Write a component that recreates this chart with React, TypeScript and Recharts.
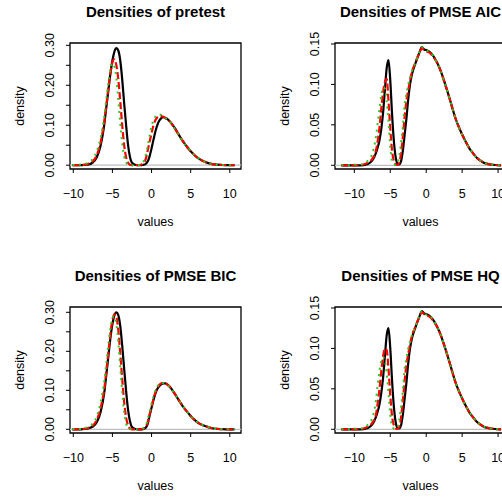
import { LineChart, Line, XAxis, YAxis, ReferenceLine, ReferenceArea } from 'recharts';

// evaluation grid for the pretest / BIC densities
const gridA = [
  -10.1, -9, -8.5, -8, -7.5, -7, -6.5, -6,
  -5.75, -5.5, -5.25, -5, -4.75, -4.5, -4.25, -4, -3.75, -3.5, -3.25, -3, -2.75, -2.5,
  -2, -1.5, -1.25, -1, -0.75, -0.5, -0.25, 0,
  0.25, 0.5, 0.75, 1, 1.25, 1.5, 1.75, 2,
  2.5, 3, 3.5, 4, 4.5, 5, 5.5, 6, 6.5, 7, 7.5, 8,
  9, 10, 10.6,
];

// evaluation grid for the AIC / HQ densities
const gridB = [
  -11.8, -11, -10, -9, -8.5, -8, -7.5, -7,
  -6.75, -6.5, -6.25, -6, -5.75, -5.5, -5.25, -5, -4.75, -4.5, -4.25, -4,
  -3.75, -3.5, -3.25, -3, -2.75, -2.5, -2.25, -2,
  -1.5, -1, -0.6, -0.25, 0, 0.5, 1, 1.5, 2,
  2.5, 3, 3.5, 4, 4.5, 5, 5.5, 6, 6.5, 7, 7.5, 8,
  9, 10.4,
];

const pretestBlack = [
  0, 0, 0.001, 0.002, 0.007, 0.02, 0.05, 0.108,
  0.15, 0.19, 0.23, 0.262, 0.284, 0.293, 0.287, 0.262, 0.215, 0.155, 0.1, 0.05, 0.02, 0.006,
  0.0005, 0, 0, 0.001, 0.003, 0.009, 0.022, 0.042,
  0.064, 0.085, 0.101, 0.112, 0.118, 0.12, 0.119, 0.116,
  0.106, 0.092, 0.076, 0.06, 0.047, 0.035, 0.025, 0.017, 0.011, 0.007, 0.004, 0.002,
  0.0005, 0, 0,
];
const pretestRed = [
  0, 0.0005, 0.0015, 0.004, 0.01, 0.025, 0.058, 0.115,
  0.155, 0.195, 0.232, 0.258, 0.265, 0.25, 0.215, 0.16, 0.1, 0.05, 0.02, 0.006, 0.001, 0,
  0, 0.0005, 0.002, 0.006, 0.015, 0.036, 0.058, 0.08,
  0.1, 0.113, 0.12, 0.123, 0.123, 0.121, 0.118, 0.115,
  0.105, 0.091, 0.075, 0.06, 0.047, 0.035, 0.025, 0.017, 0.011, 0.007, 0.004, 0.002,
  0.0005, 0, 0,
];
const pretestGreen = [
  0.0005, 0.0015, 0.003, 0.007, 0.016, 0.035, 0.07, 0.128,
  0.17, 0.208, 0.24, 0.255, 0.248, 0.218, 0.165, 0.105, 0.055, 0.022, 0.007, 0.0015, 0, 0,
  0, 0.001, 0.004, 0.011, 0.025, 0.047, 0.073, 0.097,
  0.113, 0.122, 0.126, 0.127, 0.126, 0.123, 0.119, 0.115,
  0.105, 0.09, 0.075, 0.06, 0.047, 0.035, 0.025, 0.017, 0.011, 0.007, 0.004, 0.002,
  0.0005, 0, 0,
];

const bicBlack = [
  0, 0, 0.001, 0.003, 0.007, 0.018, 0.045, 0.1,
  0.145, 0.19, 0.235, 0.27, 0.292, 0.3, 0.293, 0.265, 0.215, 0.155, 0.098, 0.05, 0.02, 0.006,
  0.0005, 0, 0, 0.001, 0.004, 0.013, 0.035, 0.055,
  0.075, 0.092, 0.104, 0.111, 0.116, 0.118, 0.118, 0.115,
  0.105, 0.09, 0.074, 0.059, 0.046, 0.034, 0.024, 0.016, 0.011, 0.007, 0.004, 0.002,
  0.0005, 0, 0,
];
const bicRed = [
  0, 0.0005, 0.0015, 0.004, 0.01, 0.024, 0.055, 0.11,
  0.155, 0.2, 0.245, 0.28, 0.295, 0.288, 0.255, 0.195, 0.13, 0.07, 0.03, 0.01, 0.002, 0,
  0, 0, 0, 0.002, 0.006, 0.017, 0.038, 0.058,
  0.078, 0.095, 0.107, 0.114, 0.118, 0.119, 0.118, 0.115,
  0.105, 0.09, 0.074, 0.059, 0.046, 0.034, 0.024, 0.016, 0.011, 0.007, 0.004, 0.002,
  0.0005, 0, 0,
];
const bicGreen = [
  0.0005, 0.001, 0.003, 0.007, 0.015, 0.033, 0.07, 0.13,
  0.175, 0.22, 0.26, 0.285, 0.29, 0.27, 0.225, 0.16, 0.095, 0.045, 0.015, 0.004, 0.0005, 0,
  0, 0, 0.001, 0.004, 0.01, 0.024, 0.045, 0.065,
  0.085, 0.1, 0.11, 0.116, 0.119, 0.119, 0.117, 0.114,
  0.104, 0.09, 0.074, 0.059, 0.046, 0.034, 0.024, 0.016, 0.011, 0.007, 0.004, 0.002,
  0.0005, 0, 0,
];

const aicBlack = [
  0, 0, 0, 0, 0.0005, 0.002, 0.006, 0.015,
  0.022, 0.031, 0.045, 0.065, 0.093, 0.12, 0.13, 0.105, 0.063, 0.03, 0.01, 0.002,
  0.001, 0.005, 0.018, 0.038, 0.058, 0.082, 0.1, 0.112,
  0.126, 0.138, 0.146, 0.143, 0.1425, 0.14, 0.135, 0.127, 0.117,
  0.104, 0.09, 0.075, 0.06, 0.048, 0.038, 0.029, 0.021, 0.015, 0.0095, 0.006, 0.0032,
  0.001, 0,
];
const aicRed = [
  0, 0, 0, 0.0005, 0.0015, 0.004, 0.008, 0.018,
  0.03, 0.047, 0.07, 0.09, 0.103, 0.107, 0.08, 0.045, 0.018, 0.005, 0.001, 0.0005,
  0.003, 0.015, 0.035, 0.06, 0.08, 0.093, 0.105, 0.115,
  0.127, 0.138, 0.145, 0.142, 0.141, 0.139, 0.134, 0.127, 0.117,
  0.104, 0.09, 0.075, 0.06, 0.048, 0.038, 0.029, 0.021, 0.015, 0.0095, 0.006, 0.0032,
  0.001, 0,
];
const aicGreen = [
  0, 0, 0.0005, 0.001, 0.003, 0.007, 0.014, 0.035,
  0.052, 0.07, 0.087, 0.096, 0.095, 0.08, 0.055, 0.022, 0.005, 0.001, 0.0005, 0.002,
  0.012, 0.028, 0.048, 0.075, 0.088, 0.1, 0.108, 0.116,
  0.127, 0.139, 0.146, 0.143, 0.142, 0.14, 0.135, 0.127, 0.117,
  0.104, 0.09, 0.075, 0.06, 0.048, 0.038, 0.029, 0.021, 0.015, 0.0095, 0.006, 0.0032,
  0.001, 0,
];

const hqBlack = [
  0, 0, 0, 0, 0.0005, 0.002, 0.006, 0.015,
  0.022, 0.031, 0.045, 0.064, 0.09, 0.116, 0.125, 0.1, 0.06, 0.028, 0.009, 0.002,
  0.001, 0.005, 0.018, 0.038, 0.058, 0.082, 0.1, 0.112,
  0.126, 0.138, 0.146, 0.143, 0.1425, 0.14, 0.135, 0.127, 0.117,
  0.104, 0.09, 0.075, 0.06, 0.048, 0.038, 0.029, 0.021, 0.015, 0.0095, 0.006, 0.0032,
  0.001, 0,
];
const hqRed = [
  0, 0, 0, 0.0005, 0.0015, 0.004, 0.008, 0.018,
  0.032, 0.05, 0.072, 0.09, 0.1, 0.098, 0.075, 0.042, 0.016, 0.005, 0.001, 0.0005,
  0.003, 0.015, 0.035, 0.06, 0.08, 0.093, 0.105, 0.115,
  0.127, 0.138, 0.145, 0.142, 0.141, 0.139, 0.134, 0.127, 0.117,
  0.104, 0.09, 0.075, 0.06, 0.048, 0.038, 0.029, 0.021, 0.015, 0.0095, 0.006, 0.0032,
  0.001, 0,
];
const hqGreen = [
  0, 0, 0.0005, 0.001, 0.003, 0.007, 0.014, 0.035,
  0.055, 0.072, 0.085, 0.089, 0.085, 0.07, 0.045, 0.018, 0.004, 0.001, 0.0005, 0.002,
  0.012, 0.028, 0.048, 0.075, 0.088, 0.1, 0.108, 0.116,
  0.127, 0.139, 0.146, 0.143, 0.142, 0.14, 0.135, 0.127, 0.117,
  0.104, 0.09, 0.075, 0.06, 0.048, 0.038, 0.029, 0.021, 0.015, 0.0095, 0.006, 0.0032,
  0.001, 0,
];

const xTicks = [-10, -5, 0, 5, 10];
const yTicksWide = [0, 0.05, 0.1, 0.15, 0.2, 0.25, 0.3];
const yTicksNarrow = [0, 0.05, 0.1, 0.15];

const FONT = '"Liberation Sans", Arial, Helvetica, sans-serif';
const W = 265;
const H = 264;
const PLOT = { left: 70, top: 43, right: 241, bottom: 169 };

type PanelProps = {
  title: string;
  xs: number[];
  black: number[];
  red: number[];
  green: number[];
  xDomain: [number, number];
  yDomain: [number, number];
  yTicks: number[];
  labelEvery: number;
};

const fmtX = (v: number) => (v < 0 ? '\u2212' + Math.abs(v) : String(v));

function DensityPanel({ title, xs, black, red, green, xDomain, yDomain, yTicks, labelEvery }: PanelProps) {
  const rows = xs.map((x, i) => ({ x, black: black[i], red: red[i], green: green[i] }));

  const XTick = (p: any) => (
    <text x={p.x} y={198} textAnchor="middle" fontFamily={FONT} fontSize={12.5} fill="#000">
      {fmtX(p.payload.value)}
    </text>
  );

  const YTick = (p: any) => {
    if (p.index % labelEvery !== 0) return <g />;
    return (
      <text
        x={54}
        y={p.y}
        transform={`rotate(-90, 54, ${p.y})`}
        textAnchor="middle"
        fontFamily={FONT}
        fontSize={12.5}
        fill="#000"
      >
        {p.payload.value.toFixed(2)}
      </text>
    );
  };

  return (
    <div style={{ position: 'relative', width: W, height: H }}>
      <LineChart
        width={W}
        height={H}
        data={rows}
        margin={{ top: PLOT.top, right: W - PLOT.right, bottom: H - PLOT.bottom - 40, left: PLOT.left - 40 }}
      >
        <XAxis
          dataKey="x"
          type="number"
          domain={xDomain}
          allowDataOverflow
          ticks={xTicks}
          interval={0}
          height={40}
          axisLine={false}
          tickSize={4}
          tickLine={{ stroke: '#000', strokeWidth: 1 }}
          tick={XTick}
        />
        <YAxis
          type="number"
          domain={yDomain}
          allowDataOverflow
          ticks={yTicks}
          interval={0}
          width={40}
          axisLine={false}
          tickSize={4}
          tickLine={{ stroke: '#000', strokeWidth: 1 }}
          tick={YTick}
        />
        <ReferenceLine y={0} stroke="#bebebe" strokeWidth={1.3} />
        <Line dataKey="black" type="monotone" stroke="#000000" strokeWidth={2.2} dot={false} isAnimationActive={false} />
        <Line
          dataKey="red"
          type="monotone"
          stroke="#ff0000"
          strokeWidth={2.2}
          strokeDasharray="7 3"
          dot={false}
          isAnimationActive={false}
        />
        <Line
          dataKey="green"
          type="monotone"
          stroke="#22cc22"
          strokeWidth={2}
          strokeDasharray="2 4.5"
          dot={false}
          isAnimationActive={false}
        />
        <ReferenceArea
          x1={xDomain[0]}
          x2={xDomain[1]}
          y1={yDomain[0]}
          y2={yDomain[1]}
          fill="none"
          fillOpacity={0}
          stroke="#000"
          strokeWidth={1.3}
          ifOverflow="visible"
        />
      </LineChart>
      <div
        style={{
          position: 'absolute',
          left: 0,
          width: (PLOT.left + PLOT.right),
          top: 3,
          textAlign: 'center',
          fontFamily: FONT,
          fontWeight: 'bold',
          fontSize: 15,
          lineHeight: '18px',
          whiteSpace: 'nowrap',
        }}
      >
        {title}
      </div>
      <div
        style={{
          position: 'absolute',
          left: 0,
          width: (PLOT.left + PLOT.right),
          top: 214,
          textAlign: 'center',
          fontFamily: FONT,
          fontSize: 12.5,
          lineHeight: '16px',
        }}
      >
        values
      </div>
      <div
        style={{
          position: 'absolute',
          left: 20 - 40,
          top: (PLOT.top + PLOT.bottom) / 2 - 8,
          width: 80,
          textAlign: 'center',
          fontFamily: FONT,
          fontSize: 12.5,
          lineHeight: '16px',
          transform: 'rotate(-90deg)',
        }}
      >
        density
      </div>
    </div>
  );
}

export default function App() {
  return (
    <div
      style={{
        position: 'absolute',
        left: 0,
        top: 0,
        width: 502,
        height: 498,
        overflow: 'hidden',
        background: '#fff',
      }}
    >
      <div style={{ position: 'absolute', left: 0, top: 0 }}>
        <DensityPanel
          title="Densities of pretest"
          xs={gridA}
          black={pretestBlack}
          red={pretestRed}
          green={pretestGreen}
          xDomain={[-10.42, 11.43]}
          yDomain={[-0.0095, 0.3058]}
          yTicks={yTicksWide}
          labelEvery={2}
        />
      </div>
      <div style={{ position: 'absolute', left: W, top: 0 }}>
        <DensityPanel
          title="Densities of PMSE AIC"
          xs={gridB}
          black={aicBlack}
          red={aicRed}
          green={aicGreen}
          xDomain={[-12.69, 11.1]}
          yDomain={[-0.0046, 0.1512]}
          yTicks={yTicksNarrow}
          labelEvery={1}
        />
      </div>
      <div style={{ position: 'absolute', left: 0, top: H }}>
        <DensityPanel
          title="Densities of PMSE BIC"
          xs={gridA}
          black={bicBlack}
          red={bicRed}
          green={bicGreen}
          xDomain={[-10.42, 11.43]}
          yDomain={[-0.0095, 0.3136]}
          yTicks={yTicksWide}
          labelEvery={2}
        />
      </div>
      <div style={{ position: 'absolute', left: W, top: H }}>
        <DensityPanel
          title="Densities of PMSE HQ"
          xs={gridB}
          black={hqBlack}
          red={hqRed}
          green={hqGreen}
          xDomain={[-12.69, 11.1]}
          yDomain={[-0.0046, 0.1512]}
          yTicks={yTicksNarrow}
          labelEvery={1}
        />
      </div>
    </div>
  );
}
